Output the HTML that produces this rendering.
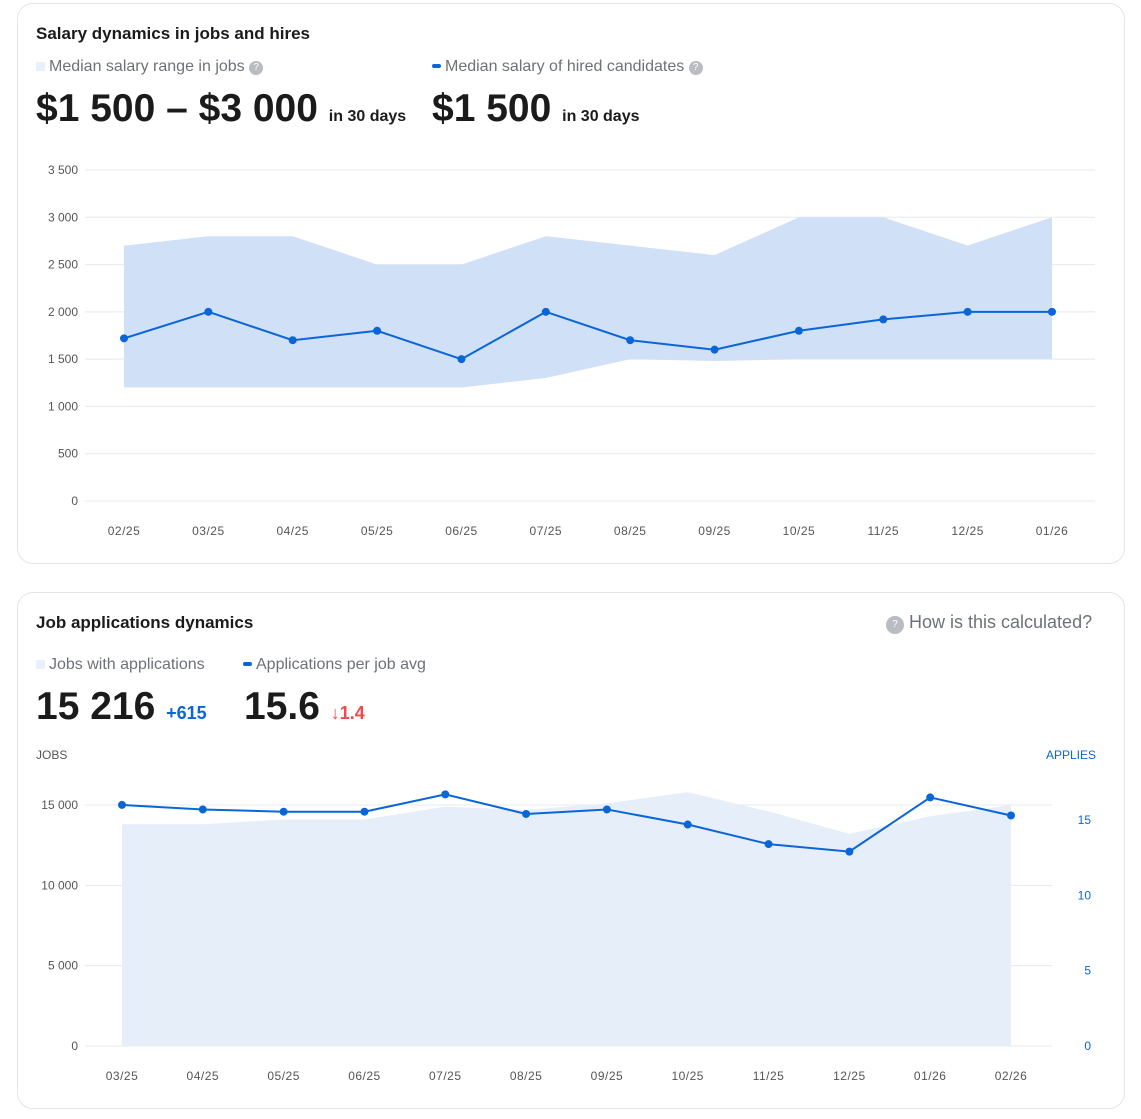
<!DOCTYPE html>
<html><head><meta charset="utf-8"><style>
body{margin:0;width:1141px;height:1119px;background:#fff;font-family:"Liberation Sans",sans-serif;position:relative;overflow:hidden}
.card{position:absolute;left:17px;width:1108px;border:1px solid #e3e5e8;border-radius:16px;box-sizing:border-box}
.t{position:absolute;white-space:nowrap}
.h{font-size:17px;font-weight:bold;color:#1b1b1b}
.lg{font-size:16px;color:#6e7278}
.big{font-size:39px;font-weight:bold;color:#1b1b1b}
.sm{font-size:16px;font-weight:bold;color:#1b1b1b}
.q{display:inline-block;width:14px;height:14px;border-radius:7px;background:#b9bcc0;color:#fff;font-size:10px;text-align:center;line-height:14px;vertical-align:1px}
svg{position:absolute;left:0;top:0}
</style></head><body>
<div class="card" style="top:3px;height:561px"></div>
<div class="card" style="top:592px;height:517px"></div>
<div class="t h" style="left:36px;top:24px">Salary dynamics in jobs and hires</div>
<div class="t lg" style="left:36px;top:58px"><span style="display:inline-block;width:9px;height:9px;background:#e8f0fb;margin-right:4px"></span>Median salary range in jobs <span class="q">?</span></div>
<div class="t lg" style="left:432px;top:58px"><span style="display:inline-block;width:9px;height:4px;border-radius:2px;background:#0a66d8;margin-right:4px;vertical-align:3px"></span>Median salary of hired candidates <span class="q">?</span></div>
<div class="t big" style="left:36px;top:87px">$1 500 – $3 000 <span class="sm">in 30 days</span></div>
<div class="t big" style="left:432px;top:87px">$1 500 <span class="sm">in 30 days</span></div>
<div class="t h" style="left:36px;top:613px">Job applications dynamics</div>
<div class="t" style="left:886px;top:612px;font-size:18px;color:#6e7278"><span class="q" style="width:18px;height:18px;line-height:18px;border-radius:9px">?</span> How is this calculated?</div>
<div class="t lg" style="left:36px;top:656px"><span style="display:inline-block;width:9px;height:9px;background:#e8f0fb;margin-right:4px"></span>Jobs with applications</div>
<div class="t lg" style="left:243px;top:656px"><span style="display:inline-block;width:9px;height:4px;border-radius:2px;background:#0a66d8;margin-right:4px;vertical-align:3px"></span>Applications per job avg</div>
<div class="t big" style="left:36px;top:685px">15 216 <span style="font-size:18px;color:#0a66d8">+615</span></div>
<div class="t big" style="left:244px;top:685px">15.6 <span style="font-size:18px;color:#ef4b4b">↓1.4</span></div>
<div class="t" style="left:36px;top:748px;font-size:12px;color:#555">JOBS</div>
<div class="t" style="left:1046px;top:748px;font-size:12px;color:#0a66d8">APPLIES</div>
<svg id="c1" width="1141" height="560"></svg>
<svg id="c2" width="1141" height="1119"></svg>
<script>
const cats1=["02/25","03/25","04/25","05/25","06/25","07/25","08/25","09/25","10/25","11/25","12/25","01/26"];
const upper1=[2700,2800,2800,2500,2500,2800,2700,2600,3000,3000,2700,3000];
const lower1=[1200,1200,1200,1200,1200,1300,1500,1480,1500,1500,1500,1500];
const hired1=[1720,2000,1700,1800,1500,2000,1700,1600,1800,1920,2000,2000];
const ticks1=[0,500,1000,1500,2000,2500,3000,3500];
const cats2=["03/25","04/25","05/25","06/25","07/25","08/25","09/25","10/25","11/25","12/25","01/26","02/26"];
const jobs2=[13800,13800,14100,14100,14900,14700,15100,15800,14600,13200,14300,15000];
const applies2=[16.0,15.7,15.55,15.55,16.7,15.4,15.7,14.7,13.4,12.9,16.5,15.3];
const ticksL=[0,5000,10000,15000];
const ticksR=[0,5,10,15];
const NS="http://www.w3.org/2000/svg";
function mk(svg,tag,a){const e=document.createElementNS(NS,tag);for(const k in a)e.setAttribute(k,a[k]);svg.appendChild(e);return e;}
function fmt(v){return String(v).replace(/\B(?=(\d{3})+(?!\d))/g," ");}
const s1=document.getElementById('c1');
const x1=i=>124+i*(1052-124)/11, y1=v=>501-v*(331/3500);
ticks1.forEach(v=>{const l=mk(s1,'line',{x1:85,x2:1095,y1:y1(v),y2:y1(v),stroke:'#e6e8eb'});

const t=mk(s1,'text',{x:78,y:y1(v)+4,'text-anchor':'end','font-size':12,fill:'#555'});t.textContent=fmt(v);
});
let d='';upper1.forEach((v,i)=>d+=(i?'L':'M')+x1(i)+','+y1(v));for(let i=lower1.length-1;i>=0;i--)d+='L'+x1(i)+','+y1(lower1[i]);
const a1=mk(s1,'path',{d:d+'Z',fill:'#cfe0f7'});
const p1=mk(s1,'polyline',{points:hired1.map((v,i)=>x1(i)+','+y1(v)).join(' '),fill:'none',stroke:'#0a66d8','stroke-width':2});

hired1.forEach((v,i)=>{const c=mk(s1,'circle',{cx:x1(i),cy:y1(v),r:4,fill:'#0a66d8'});});
cats1.forEach((c,i)=>{const t=mk(s1,'text',{x:x1(i),y:535,'text-anchor':'middle','font-size':12,fill:'#555','letter-spacing':'0.5'});t.textContent=c;});
const s2=document.getElementById('c2');
const x2=i=>122+i*(1011-122)/11, yL=v=>1046-v*(241/15000), yR=v=>1046-v*(226/15);
ticksL.forEach(v=>{const l=mk(s2,'line',{x1:85,x2:1052,y1:yL(v),y2:yL(v),stroke:'#e6e8eb'});

const t=mk(s2,'text',{x:78,y:yL(v)+4,'text-anchor':'end','font-size':12,fill:'#555'});t.textContent=fmt(v);
});
ticksR.forEach(v=>{const t=mk(s2,'text',{x:1091,y:yR(v)+4,'text-anchor':'end','font-size':12,fill:'#0a66d8'});t.textContent=v;
});
let d2='M'+x2(0)+','+yL(0);jobs2.forEach((v,i)=>d2+='L'+x2(i)+','+yL(v));d2+='L'+x2(jobs2.length-1)+','+yL(0)+'Z';
const a2=mk(s2,'path',{d:d2,fill:'#e6eefa'});
const p2=mk(s2,'polyline',{points:applies2.map((v,i)=>x2(i)+','+yR(v)).join(' '),fill:'none',stroke:'#0a66d8','stroke-width':2});

applies2.forEach((v,i)=>{const c=mk(s2,'circle',{cx:x2(i),cy:yR(v),r:4,fill:'#0a66d8'});});
cats2.forEach((c,i)=>{const t=mk(s2,'text',{x:x2(i),y:1080,'text-anchor':'middle','font-size':12,fill:'#555','letter-spacing':'0.5'});t.textContent=c;});
</script>
</body></html>
